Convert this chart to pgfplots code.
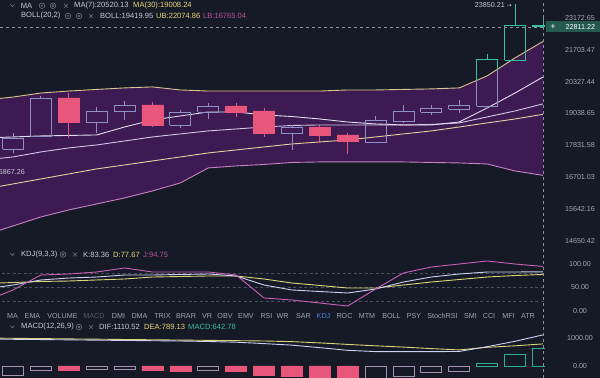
\documentclass[border=0pt]{standalone}
\usepackage{pgfplots}
\pgfplotsset{compat=1.18}
\usepackage{pgfplotstable}
\usepackage{fontspec}
\setmainfont{Liberation Sans}
\newfontfamily\sym{DejaVu Sans}

\definecolor{bg}{HTML}{161A26}
\definecolor{band}{HTML}{3D1A52}
\definecolor{upc}{HTML}{8E90C6}
\definecolor{tealc}{HTML}{35C2A0}
\definecolor{downc}{HTML}{E8567C}
\definecolor{txt}{HTML}{C8CAD6}
\definecolor{yel}{HTML}{E6D776}
\definecolor{pnk}{HTML}{B8559A}
\definecolor{lblc}{HTML}{A4A8B6}
\definecolor{iconc}{HTML}{6E7286}
\definecolor{ma7c}{HTML}{E4DCF0}
\definecolor{midc}{HTML}{D4C6E6}
\definecolor{ma30c}{HTML}{E2D2A0}
\definecolor{ubc}{HTML}{D8C68E}
\definecolor{lbc}{HTML}{C882C4}
\definecolor{kc}{HTML}{CDD0F0}
\definecolor{dc}{HTML}{DCD67A}
\definecolor{jc}{HTML}{C862B4}
\definecolor{dashc}{HTML}{4A4E5E}
\definecolor{crossc}{HTML}{8A8E9C}
\definecolor{hneg}{HTML}{A890B0}
\definecolor{posc}{HTML}{2FAE96}
\definecolor{tabc}{HTML}{A0A4B4}
\definecolor{tabdim}{HTML}{565A6C}
\definecolor{tabsel}{HTML}{4A7FD0}
\definecolor{pricebox}{HTML}{245A50}

\pgfplotstableread{
i    ub       lb       mid      ma7      ma30
-1   19577    14832    17305    18106    16304
0    19698    15109    17412    18143    16472
1    19861    15392    17592    18181    16642
2    19943    15615    17738    18199    16814
3    20004    15808    17847    18218    16988
4    20066    16005    17995    18520    17128
5    20107    16237    18143    18788    17270
6    19984    16506    18256    18944    17412
7    19943    17023    18369    19100    17556
8    19943    17093    18444    19100    17665
9    19943    17146    18520    18983    17774
10   19943    17216    18577    18924    17884
11   19943    17234    18596    18827    17958
12   19984    17234    18596    18711    18032
13   19984    17234    18596    18635    18143
14   20004    17234    18596    18596    18256
15   20025    17216    18615    18596    18369
16   20066    17199    18673    18711    18520
17   20567    17163    18905    19258    18673
18   21343    16918    19139    19861    18827
19   22074.86 16765.04 19419.95 20520.13 19008.24
}\maintab

\pgfplotstableread{
i    k      d      j
-1   47     58.5   21
0    55.3   60.6   44.7
1    66.0   62.8   76.6
2    70.2   63.8   78.7
3    72.3   66.0   83.0
4    76.6   68.1   91.5
5    76.6   72.3   83.0
6    77.7   73.4   83.0
7    78.7   74.5   83.0
8    74.5   74.5   76.6
9    55.3   68.1   27.7
10   44.7   59.6   23.4
11   41.5   54.3   17.0
12   38.3   48.9   10.6
13   46.8   48.9   46.8
14   61.7   55.3   80.9
15   72.3   61.7   93.6
16   78.7   67.0   100.0
17   83.0   72.3   106.4
18   83.0   75.5   100.0
19   83.36  77.67  94.75
}\kdjtab

\pgfplotstableread{
i    dif      dea
-1   965      1000
0    954      989
1    944      979
2    934      968
3    923      958
4    913      947
5    903      937
6    893      926
7    875      916
8    850      905
9    800      893
10   745      870
11   655      825
12   560      771
13   515      721
14   511      675
15   511      621
16   520      575
17   690      668
18   882      721
19   1110.52  789.13
}\macdtab

% up (hollow) candle: i, xl, xr, open, high, low, close, colour
\newcommand{\cu}[8]{%
\addplot[#8, line width=0.8bp] coordinates {(#1,#5) (#1,#7)};
\addplot[#8, line width=0.8bp] coordinates {(#1,#4) (#1,#6)};
\addplot[draw=#8, fill=none, line width=0.8bp] coordinates {(#2,#4) (#3,#4) (#3,#7) (#2,#7) (#2,#4)};
}
% down (filled) candle: i, xl, xr, open, high, low, close
\newcommand{\cd}[7]{%
\addplot[downc, line width=0.8bp] coordinates {(#1,#5) (#1,#6)};
\addplot[draw=downc, fill=downc, line width=0.5bp] coordinates {(#2,#4) (#3,#4) (#3,#7) (#2,#7) (#2,#4)};
}

\newcommand{\chev}[1]{\draw[iconc, line width=0.6bp] (10.3,#1+1.3) -- (12.3,#1-0.9) -- (14.3,#1+1.3);}
\newcommand{\eye}[2]{\draw[iconc, line width=0.6bp] (#1,#2) circle (2.8bp); \fill[iconc] (#1,#2) circle (1bp);}
\newcommand{\gear}[2]{\draw[iconc, line width=0.6bp] (#1,#2) circle (2.8bp); \draw[iconc, line width=0.5bp] (#1,#2) circle (1.1bp);}
\newcommand{\xx}[2]{\draw[iconc, line width=0.6bp] (#1-2,#2-2) -- (#1+2,#2+2) (#1-2,#2+2) -- (#1+2,#2-2);}

\pgfplotsset{panel/.style={anchor=south west, width=545bp, scale only axis,
  xmin=-0.4661, xmax=19.075, axis line style={draw=none}, tick style={draw=none},
  xtick=\empty, yticklabel pos=right,
  yticklabel style={font=\fontsize{7.2}{8}\selectfont, color=lblc, anchor=center, xshift=35bp},
  clip=true}}

\begin{document}
\begin{tikzpicture}
\fill[bg] (0bp,0bp) rectangle (600bp,378bp);

% ---------------- main panel ----------------
\begin{axis}[panel, at={(0bp,131bp)}, height=247bp,
  ymode=log, ymin=14470.8, ymax=24045,
  ytick={14650.42,15642.16,16701.03,17831.58,19038.65,20327.44,21703.47,23172.65},
  yticklabels={14650.42,15642.16,16701.03,17831.58,19038.65,20327.44,21703.47,23172.65}]
\addplot[fill=band, draw=none] coordinates {
 (-1,19577) (0,19698) (1,19861) (2,19943) (3,20004) (4,20066) (5,20107) (6,19984)
 (7,19943) (8,19943) (9,19943) (10,19943) (11,19943) (12,19984) (13,19984) (14,20004)
 (15,20025) (16,20066) (17,20567) (18,21343) (19,22074.86)
 (19,16765.04) (18,16918) (17,17163) (16,17199) (15,17216) (14,17234) (13,17234)
 (12,17234) (11,17234) (10,17216) (9,17146) (8,17093) (7,17023) (6,16506) (5,16237)
 (4,16005) (3,15808) (2,15615) (1,15392) (0,15109) (-1,14832) (-1,19577)};
\addplot[ubc, line width=0.9bp] table[x=i, y=ub]{\maintab};
\addplot[lbc, line width=0.9bp] table[x=i, y=lb]{\maintab};
\addplot[ma30c, line width=0.9bp] table[x=i, y=ma30]{\maintab};
\addplot[midc, line width=0.9bp] table[x=i, y=mid]{\maintab};
\addplot[ma7c, line width=0.9bp] table[x=i, y=ma7]{\maintab};

\cu{0}{-0.375}{0.375}{17701}{18293}{17556}{18106}{upc}
\cu{1}{0.625}{1.375}{18181}{19739}{18143}{19658}{upc}
\cd{2}{1.625}{2.375}{19658}{19861}{18106}{18712}
\cu{3}{2.625}{3.375}{18712}{19297}{18293}{19139}{upc}
\cu{4}{3.625}{4.375}{19139}{19537}{18789}{19377}{upc}
\cd{5}{4.625}{5.375}{19377}{19497}{18520}{18596}
\cu{6}{5.625}{6.375}{18596}{19179}{18482}{19100}{upc}
\cu{7}{6.625}{7.375}{19100}{19457}{18827}{19337}{upc}
\cd{8}{7.625}{8.375}{19337}{19457}{18905}{19100}
\cd{9}{8.625}{9.375}{19139}{19258}{18143}{18293}
\cu{10}{9.625}{10.375}{18293}{18596}{17665}{18520}{upc}
\cd{11}{10.625}{11.375}{18520}{18596}{17921}{18218}
\cd{12}{11.625}{12.375}{18218}{18293}{17520}{17995}
\cu{13}{12.625}{13.375}{17958}{18944}{17921}{18789}{upc}
\cu{14}{13.625}{14.375}{18750}{19377}{18673}{19139}{upc}
\cu{15}{14.625}{15.375}{19100}{19377}{18983}{19258}{upc}
\cu{16}{15.625}{16.375}{19218}{19577}{19061}{19377}{upc}
\cu{17}{16.625}{17.375}{19337}{21519}{19258}{21299}{upc}
\addplot[tealc, line width=0.8bp] coordinates {(16.625,20377) (16.625,21299) (17.375,21299) (17.375,20855)};
\addplot[tealc, line width=0.8bp] coordinates {(17,21299) (17,21519)};
\cu{18}{17.625}{18.375}{21255}{23850.21}{21240}{22811.22}{tealc}
\cu{19}{18.625}{19.375}{22790}{23220}{22780}{22811.22}{tealc}
\end{axis}

% ---------------- KDJ panel ----------------
\begin{axis}[panel, at={(0bp,66bp)}, height=64bp,
  ymin=-2.128, ymax=134.04,
  ytick={0,50,100}, yticklabels={0.00,50.00,100.00}]
\addplot[dashc, line width=0.6bp, dash pattern=on 3bp off 2.5bp] coordinates {(-1,80) (20,80)};
\addplot[dashc, line width=0.6bp, dash pattern=on 3bp off 2.5bp] coordinates {(-1,50) (20,50)};
\addplot[dashc, line width=0.6bp, dash pattern=on 3bp off 2.5bp] coordinates {(-1,20) (20,20)};
\addplot[dc, line width=0.9bp] table[x=i, y=d]{\kdjtab};
\addplot[kc, line width=0.9bp] table[x=i, y=k]{\kdjtab};
\addplot[jc, line width=0.9bp] table[x=i, y=j]{\kdjtab};
\end{axis}

% ---------------- MACD panel ----------------
\begin{axis}[panel, at={(0bp,0bp)}, height=56bp,
  ymin=-428.6, ymax=1571.4,
  ytick={0,1000}, yticklabels={0.00,1000.00}]
\addplot[ybar, bar width=21bp, bar shift=0pt, draw=hneg, fill=none, line width=0.8bp]
  coordinates {(0,-321) (1,-143) (3,-107) (4,-107) (7,-168) (13,-470) (14,-357) (15,-238) (16,-179)};
\addplot[ybar, bar width=21bp, bar shift=0pt, draw=downc, fill=downc, line width=0.5bp]
  coordinates {(2,-168) (5,-168) (6,-175) (8,-190) (9,-332) (10,-357) (11,-450) (12,-520)};
\addplot[ybar, bar width=21bp, bar shift=0pt, draw=posc, fill=none, line width=0.8bp]
  coordinates {(17,83) (18,417) (19,642.78)};
\addplot[dc, line width=0.9bp] table[x=i, y=dea]{\macdtab};
\addplot[kc, line width=0.9bp] table[x=i, y=dif]{\macdtab};
\end{axis}

% ---------------- overlays ----------------
\begin{scope}[x=1bp, y=1bp]
\node[anchor=east, inner sep=0, font=\fontsize{7.2}{8}\selectfont, text=txt] at (512,373) {23850.21 {\sym\fontsize{6}{7}\selectfont →}};
\draw[crossc, line width=0.6bp, dash pattern=on 3bp off 3bp] (0,351) -- (545,351);
\draw[crossc, line width=0.6bp, dash pattern=on 3bp off 3bp] (543,0) -- (543,378);
\fill[pricebox] (545.5,345.5) rectangle (600,356.5);
\node[anchor=center, inner sep=0, text=white, font=\fontsize{9}{9}\selectfont] at (553,351) {+};
\node[anchor=west, inner sep=0, text=white, font=\fontsize{7.2}{8}\selectfont] at (565.5,351) {22811.22};

\node[anchor=east, inner sep=0, text=txt, font=\fontsize{7.2}{8}\selectfont] at (25,206) {16867.26};

% header rows
\begin{scope}[every node/.style={anchor=west, inner sep=0, font=\fontsize{7.6}{9}\selectfont}]
\chev{372.3}
\node[text=txt] at (20.7,372.3) {MA};
\eye{42}{372.3} \gear{53}{372.3} \xx{66}{372.3}
\node[text=txt] at (74,372.3) {MA(7):20520.13};
\node[text=yel] at (133,372.3) {MA(30):19008.24};
\node[text=txt] at (21,362) {BOLL(20,2)};
\eye{68}{362} \gear{79}{362} \xx{91}{362}
\node[text=txt] at (100,362) {BOLL:19419.95};
\node[text=yel] at (156,362) {UB:22074.86};
\node[text=pnk] at (203,362) {LB:16765.04};

\chev{123.5}
\node[text=txt] at (21,123.5) {KDJ(9,3,3)};
\gear{63}{123.5} \xx{75}{123.5}
\node[text=txt] at (83,123.5) {K:83.36};
\node[text=yel] at (113,123.5) {D:77.67};
\node[text=pnk] at (143,123.5) {J:94.75};

\chev{51}
\node[text=txt] at (21,51) {MACD(12,26,9)};
\gear{79}{51} \xx{91}{51}
\node[text=txt] at (99,51) {DIF:1110.52};
\node[text=yel] at (144,51) {DEA:789.13};
\node[text=tealc] at (188,51) {MACD:642.78};
\end{scope}

% tab row
\begin{scope}[every node/.style={anchor=center, inner sep=0, font=\fontsize{7.2}{8}\selectfont, text=tabc}]
\node at (12.5,62) {MA};
\node at (32.5,62) {EMA};
\node at (62.5,62) {VOLUME};
\node[text=tabdim] at (94,62) {MACD};
\node at (118.5,62) {DMI};
\node at (139.5,62) {DMA};
\node at (162.5,62) {TRIX};
\node at (186,62) {BRAR};
\node at (207,62) {VR};
\node at (225,62) {OBV};
\node at (246,62) {EMV};
\node at (266.5,62) {RSI};
\node at (282.5,62) {WR};
\node at (303.5,62) {SAR};
\node[text=tabsel] at (323.5,62) {KDJ};
\node at (344.5,62) {ROC};
\node at (367,62) {MTM};
\node at (391.5,62) {BOLL};
\node at (414,62) {PSY};
\node at (442.5,62) {StochRSI};
\node at (470.5,62) {SMI};
\node at (489,62) {CCI};
\node at (508.5,62) {MFI};
\node at (528,62) {ATR};
\end{scope}
\end{scope}

\pgfresetboundingbox
\path[use as bounding box] (0bp,0bp) rectangle (600bp,378bp);
\end{tikzpicture}
\end{document}
